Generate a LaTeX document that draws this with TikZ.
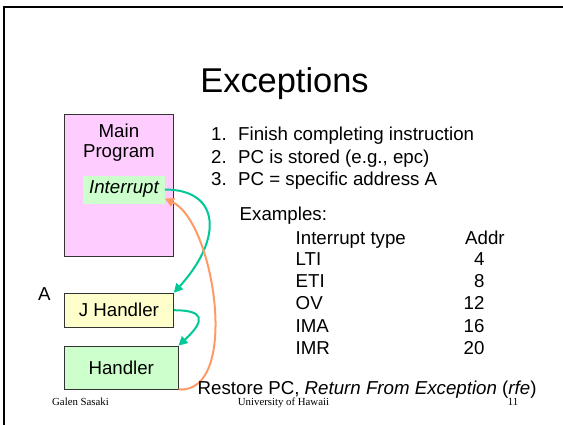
\documentclass[tikz,border=0pt]{standalone}
\usepackage{fontspec}
\setmainfont{Liberation Sans}
\newfontfamily\footfont{Liberation Serif}
\usetikzlibrary{arrows.meta,positioning}

\definecolor{progpink}{HTML}{FFCCFF}
\definecolor{intgreen}{HTML}{CCFFCC}
\definecolor{jhyellow}{HTML}{FFFFCC}
\definecolor{jumpgreen}{HTML}{00C896}
\definecolor{retorange}{HTML}{FF9966}
\newcommand{\bodysize}{\fontsize{18.7}{20.3}\selectfont}

\begin{document}
\begin{tikzpicture}[x=1pt, y=-1pt, >={Triangle[length=9pt,width=9pt]},
        node distance = 36pt and 0pt,
    box/.style  = {draw=black!80, line width=0.8pt, minimum width=109pt,
                   inner sep=0pt, align=center, font=\bodysize},
    txt/.style  = {inner sep=0pt, anchor=base west, font=\bodysize},
    foot/.style = {inner sep=0pt, anchor=base west, font=\footfont\fontsize{10.8}{12}\selectfont},
    jump/.style = {->, line width=2pt, jumpgreen},
    back/.style = {->, line width=2pt, retorange},
                    ]
    \useasboundingbox (0,0) rectangle (563,424);
    \draw[line width=2.2pt] (4.2,430) |- (570,7.2);
    \node[inner sep=0pt, anchor=base, font=\fontsize{34.4}{40}\selectfont] (title) at (284.5,92.3) {Exceptions};
    %
    \node[box, fill=progpink, minimum height=142pt, anchor=north west] (main) at (64,114) {};
    \node[txt, align=center, below=9.3pt of main.north] (mtext) {Main\\Program};
    \node[fill=intgreen, minimum width=81.5pt, minimum height=28pt, inner sep=0pt,
          font=\bodysize\itshape, below right=61.3pt and 19pt of main.north west] (intr) {Interrupt};
    \node[box, fill=jhyellow, minimum height=34pt, below=36pt of main.south west, anchor=north west] (jh) {J Handler};
    \node[box, fill=intgreen, minimum width=113.7pt, minimum height=43pt,
          below=18pt of jh.south west, anchor=north west] (hd) {Handler};
    \node[txt] (addrA) at (38,300) {A};
    %
    \draw[jump] (intr.east) .. controls +(55,0) and +(50,-55) .. (jh.north east);
    \draw[jump] (jh.east) .. controls +(30,0) and +(28,-26) .. (hd.north east);
    \draw[back] (hd.south east) .. controls +(62,5) and +(50,24) .. ([yshift=-9pt]intr.east);
    %
    \foreach \t [count=\i] in {Finish completing instruction, {PC is stored (e.g., epc)}, {PC = specific address A}}
    {
      \node[txt] (num\i) at (211,{118.4+22.3*\i}) {\i.};
      \node[txt] (item\i) at (238,{118.4+22.3*\i}) {\t};
    }
    \node[txt] (ex) at (239.5,220) {Examples:};
    \node[txt] (typehd) at (295.5,244.3) {Interrupt type};
    \node[txt] (addrhd) at (465,244.3) {Addr};
    \foreach \n/\a [count=\i] in {LTI/4, ETI/8, OV/12, IMA/16, IMR/20}
    {
      \node[txt] (type\i) at (295.5,{242.6+22.4*\i}) {\n};
      \node[txt, anchor=base east] (addr\i) at (484.7,{242.6+22.4*\i}) {\a};
    }
    \node[txt] (rfe) at (197.5,394) {Restore PC, \textit{Return From Exception} (\textit{rfe})};
    %
    \node[foot] (author) at (52,405) {Galen Sasaki};
    \node[foot] (school) at (237.7,405) {University of Hawaii};
    \node[foot] (page) at (507.7,405) {11};
\end{tikzpicture}
\end{document}
